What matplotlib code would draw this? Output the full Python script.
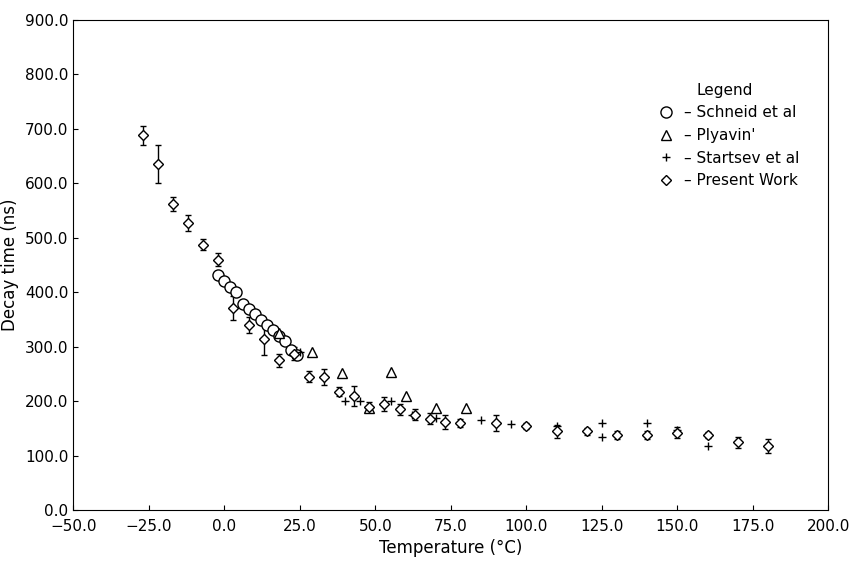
import matplotlib.pyplot as plt

# Present Work (diamonds, with error bars)
pw_t = [-27, -22, -17, -12, -7, -2, 3, 8, 13, 18, 23, 28, 33, 38, 43, 48, 53, 58,
        63, 68, 73, 78, 90, 100, 110, 120, 130, 140, 150, 160, 170, 180]
pw_tau = [688, 635, 562, 527, 487, 460, 372, 340, 315, 275, 287, 245, 245, 218, 210, 190,
          195, 185, 175, 168, 162, 160, 160, 155, 145, 145, 138, 138, 142, 138, 125, 118]
pw_err = [18, 35, 12, 15, 10, 12, 22, 15, 30, 12, 12, 10, 15, 8, 18, 8,
          12, 10, 10, 10, 12, 8, 15, 6, 12, 6, 8, 8, 10, 6, 10, 12]

# Schneid et al (circles)
sc_t = [-2, 0, 2, 4, 6, 8, 10, 12, 14, 16, 18, 20, 22, 24]
sc_tau = [432, 420, 410, 400, 378, 370, 360, 350, 340, 330, 320, 310, 295, 285]

# Plyavin' (triangles)
pl_t = [18, 29, 39, 48, 55, 60, 70, 80]
pl_tau = [325, 290, 252, 188, 253, 210, 188, 188]

# Startsev et al (plus)
st_t = [25, 40, 45, 55, 62, 70, 85, 95, 110, 125, 125, 140, 150, 160]
st_tau = [290, 200, 200, 200, 175, 170, 165, 158, 155, 160, 135, 160, 148, 118]

fig, ax = plt.subplots(figsize=(8.63, 5.67), dpi=100)
pw = ax.errorbar(pw_t, pw_tau, yerr=pw_err, fmt='D', ms=5, mfc='white', mec='black',
                 ecolor='black', elinewidth=1, capsize=2, color='black')
sc, = ax.plot(sc_t, sc_tau, 'o', ms=8, mfc='white', mec='black')
pl, = ax.plot(pl_t, pl_tau, '^', ms=7, mfc='white', mec='black')
st, = ax.plot(st_t, st_tau, '+', ms=6, color='black')

ax.set_xlim(-50, 200)
ax.set_ylim(0, 900)
ax.set_xticks(range(-50, 201, 25))
ax.set_xticklabels([f'{v:.1f}'.replace('-', '−') for v in range(-50, 201, 25)])
ax.set_yticks(range(0, 901, 100))
ax.set_yticklabels([f'{v:.1f}' for v in range(0, 901, 100)])
ax.tick_params(direction='in', labelsize=11)
ax.tick_params(axis='x', pad=6)
ax.set_xlabel('Temperature (°C)', fontsize=12)
ax.set_ylabel('Decay time (ns)', fontsize=12)

ax.legend([sc, pl, st, pw[0]],
          ['– Schneid et al', "– Plyavin'", '– Startsev et al', '– Present Work'],
          title='Legend', frameon=False, loc='upper right', bbox_to_anchor=(0.98, 0.9),
          fontsize=11, title_fontsize=11, handletextpad=0.2)

plt.subplots_adjust(left=0.085, right=0.96, top=0.965, bottom=0.1)
plt.savefig('out.png')
